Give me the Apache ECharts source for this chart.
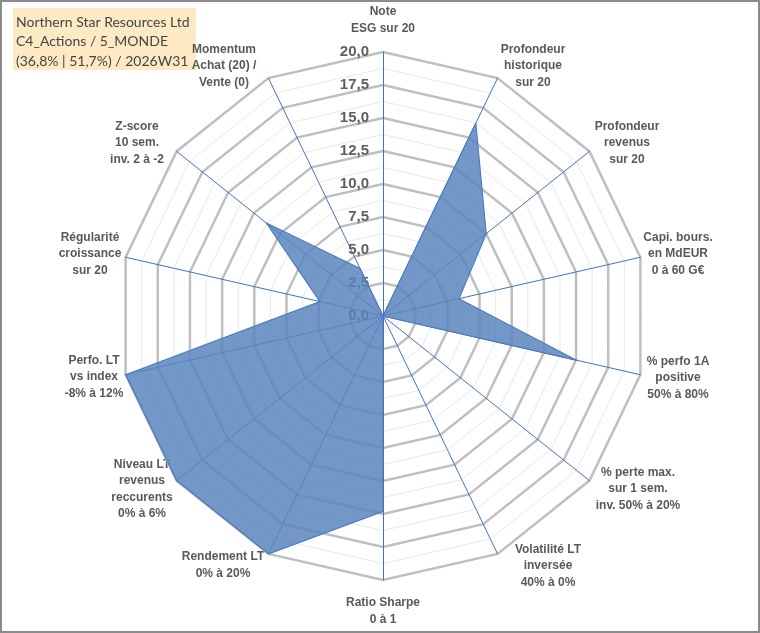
<!DOCTYPE html>
<html lang="fr">
<head>
    <meta charset="UTF-8">
    <title>Northern Star Resources Ltd - radar</title>
    <script src="https://cdn.jsdelivr.net/npm/echarts@6/dist/echarts.min.js"></script>
    <style>
        body, html {
            margin: 0;
            padding: 0;
            width: 100%;
            height: 100%;
            background-color: #ffffff;
        }
        #chart {
            width: 760px;
            height: 633px;
            box-sizing: border-box;
            border: 2px solid #8c8c8c;
        }
    </style>
</head>
<body>
    <div id="chart"></div>

    <script>
        // axes, dans le sens horaire depuis le haut
        var axisNames = [
            'Note\nESG sur 20',
            'Profondeur\nhistorique\nsur 20',
            'Profondeur\nrevenus\nsur 20',
            'Capi. bours.\nen MdEUR\n0 à 60 G€',
            '% perfo 1A\npositive\n50% à 80%',
            '% perte max.\nsur 1 sem.\ninv. 50% à 20%',
            'Volatilité LT\ninversée\n40% à 0%',
            'Ratio Sharpe\n0 à 1',
            'Rendement LT\n0% à 20%',
            'Niveau LT\nrevenus\nreccurents\n0% à 6%',
            'Perfo. LT\nvs index\n-8% à 12%',
            'Régularité\ncroissance\nsur 20',
            'Z-score\n10 sem.\ninv. 2 à -2',
            'Momentum\nAchat (20) /\nVente (0)'
        ];
        var scores = [0, 16.2, 10, 5.9, 15, 0, 0, 14.8, 20, 20, 20, 4.9, 11.3, 4];
        var scaleMax = 20;
        var tickStep = 2.5;
        var titleLines = [
            'Northern Star Resources Ltd',
            'C4_Actions / 5_MONDE',
            '(36,8% | 51,7%) / 2026W31'
        ];

        // position des libellés (centre du bloc de texte)
        var namePos = [
            [383, 20], [533, 66], [627, 143], [678, 254], [678, 378], [638, 489], [548, 566],
            [383, 611], [223, 565], [142, 489], [94, 377], [90, 254], [137, 143], [224, 66]
        ];

        var chart = echarts.init(document.getElementById('chart'));
        var cx = 381, cy = 314, R = 264;

        // echarts trace le radar dans le sens anti-horaire -> on inverse l'ordre
        var order = [0];
        for (var i = axisNames.length - 1; i > 0; i--) order.push(i);
        var indicators = order.map(function (i) { return { name: '', max: scaleMax, min: 0 }; });
        var values = order.map(function (i) { return scores[i]; });

        var graphics = [{
            type: 'rect',
            shape: { x: 11, y: 6, width: 183, height: 62 },
            style: { fill: '#fde9c3' }
        }];
        titleLines.forEach(function (t, k) {
            graphics.push({
                type: 'text',
                x: 14, y: 20 + k * 19.5,
                style: {
                    text: t, fill: '#454545', font: '14px Lato',
                    textVerticalAlign: 'middle'
                }
            });
        });
        axisNames.forEach(function (n, k) {
            graphics.push({
                type: 'text',
                x: namePos[k][0] - 2, y: namePos[k][1] - 2,
                style: {
                    text: n, fill: '#595959', font: 'bold 12px "Liberation Sans"',
                    textAlign: 'center', textVerticalAlign: 'middle', lineHeight: 16.5
                }
            });
        });

        var option = {
            animation: false,
            radar: [{
                center: [cx, cy],
                radius: R,
                startAngle: 90,
                shape: 'polygon',
                splitNumber: scaleMax / tickStep * 2,
                indicator: indicators,
                axisName: { show: false },
                axisLine: { show: false },
                splitLine: { lineStyle: { color: '#e8e8e8', width: 1 } },
                splitArea: { show: false }
            }, {
                center: [cx, cy],
                radius: R,
                startAngle: 90,
                shape: 'polygon',
                splitNumber: scaleMax / tickStep,
                indicator: indicators,
                axisName: { show: false },
                axisLine: { lineStyle: { color: '#4472c4', width: 1 } },
                splitLine: { lineStyle: { color: '#bfbfbf', width: 2.5 } },
                splitArea: { show: false }
            }],
            polar: { center: [cx, cy], radius: R },
            angleAxis: { show: false, startAngle: 90, min: 0, max: 360 },
            radiusAxis: {
                min: 0, max: scaleMax, interval: tickStep,
                axisLine: { show: false },
                axisTick: { show: false },
                splitLine: { show: false },
                axisLabel: {
                    color: '#5f5f5f',
                    fontFamily: 'Liberation Sans',
                    fontWeight: 'bold',
                    fontSize: 15,
                    margin: 14,
                    formatter: function (v) { return v.toFixed(1).replace('.', ','); }
                }
            },
            graphic: graphics,
            series: [{
                type: 'radar',
                radarIndex: 1,
                symbol: 'none',
                lineStyle: { color: '#4472c4', width: 1.2 },
                areaStyle: { color: '#5b86bd', opacity: 0.85 },
                data: [{ value: values }]
            }]
        };
        chart.setOption(option);
    </script>
</body>
</html>
